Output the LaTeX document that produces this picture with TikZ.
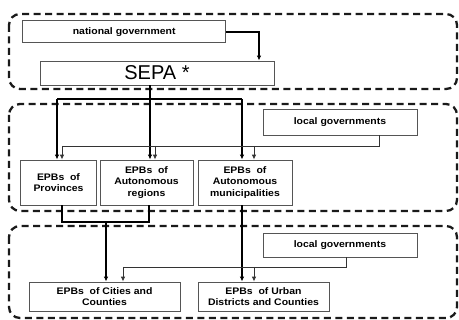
\documentclass[tikz,border=0pt]{standalone}
\usepackage{fontspec}
\setmainfont{Liberation Sans}
\newfontfamily\labfont[FakeStretch=1.1]{Liberation Sans}
\usetikzlibrary{arrows.meta}
\definecolor{boxgray}{HTML}{555555}
\definecolor{lngray}{HTML}{333333}
\definecolor{dashk}{HTML}{1A1A1A}
\tikzset{
  box/.style={draw=boxgray, line width=0.8pt, fill=white, align=center, inner sep=1pt,
    font=\labfont\bfseries\fontsize{9.5}{11.5}\selectfont},
  container/.style={draw=dashk, line width=2.3pt, dash pattern=on 7pt off 4.5pt, rounded corners=11pt},
  thickline/.style={draw=black, line width=2pt},
  thickarr/.style={draw=black, line width=2pt, -{Latex[length=5pt,width=4.5pt]}},
  medarr/.style={draw=black, line width=1.6pt, -{Latex[length=5pt,width=4.5pt]}},
  thinline/.style={draw=lngray, line width=0.9pt},
  thinarr/.style={draw=lngray, line width=0.9pt, -{Latex[length=5pt,width=4.5pt]}},
}
\begin{document}
\begin{tikzpicture}[x=1pt,y=-1pt]
\useasboundingbox (0,0) rectangle (459,320);
% containers
\draw[container] (9,14) rectangle (457,89);
\draw[container] (9,104) rectangle (457,211);
\draw[container] (9,226) rectangle (457,318);
% boxes
\node[box, minimum width=203pt, minimum height=22pt] (nat) at (124.2,31.7) {national government};
\node[box, minimum width=234pt, minimum height=24pt, font=\fontsize{20}{22}\selectfont] (sepa) at (157,73) {SEPA *};
\node[box, minimum width=154pt, minimum height=26pt] (loc1) at (340,122) {local governments};
\node[box, minimum width=76pt, minimum height=45pt] (prov) at (58.5,182.5) {EPBs\ \ of\\Provinces};
\node[box, minimum width=93pt, minimum height=45pt] (reg) at (146.5,182.5) {EPBs\ \ of\\Autonomous\\regions};
\node[box, minimum width=94pt, minimum height=45pt] (mun) at (245,182.5) {EPBs\ \ of\\Autonomous\\municipalities};
\node[box, minimum width=154pt, minimum height=24pt] (loc2) at (340,245) {local governments};
\node[box, minimum width=151pt, minimum height=29pt] (city) at (104.5,296.5) {EPBs\ \ of Cities and\\Counties};
\node[box, minimum width=131pt, minimum height=29pt] (urb) at (263.5,296.5) {EPBs\ \ of Urban\\Districts and Counties};
% national government -> SEPA
\coordinate (k1) at (259,0);
\draw[thickarr] (nat.east) -| (sepa.north -| k1);
% SEPA tree
\coordinate (t) at (150,99);
\coordinate (tl) at (57,99);
\coordinate (tr) at (242,99);
\draw[thickline] (sepa.south -| t) -- (t);
\draw[thickline] (tl) -- (tr);
\draw[thickarr] (tl) -- (prov.north -| tl);
\draw[thickarr] (t) -- (reg.north -| t);
\draw[thickarr] (tr) -- (mun.north -| tr);
% local governments (middle)
\coordinate (lg1) at (379,146);
\coordinate (a1) at (62,146);
\coordinate (a2) at (155,146);
\coordinate (a3) at (254,146);
\draw[thinline] (loc1.south -| lg1) -- (lg1) -- (a1);
\draw[thinarr] (a1) -- (prov.north -| a1);
\draw[thinarr] (a2) -- (reg.north -| a2);
\draw[thinarr] (a3) -- (mun.north -| a3);
% provinces + regions -> cities
\coordinate (b1) at (62,222);
\coordinate (b2) at (149,222);
\coordinate (b3) at (106,222);
\draw[thickline] (prov.south -| b1) -- (b1) -- (b2) -- (reg.south -| b2);
\draw[medarr] (b3) -- (city.north -| b3);
% municipalities -> urban
\draw[thickarr] (mun.south -| tr) -- (urb.north -| tr);
% local governments (bottom)
\coordinate (c0) at (346,267);
\coordinate (c1) at (123,267);
\coordinate (c2) at (254,267);
\draw[thinline] (loc2.south -| c0) -- (c0) -- (c1);
\draw[thinarr] (c1) -- (city.north -| c1);
\draw[thinarr] (c2) -- (urb.north -| c2);
\end{tikzpicture}
\end{document}
